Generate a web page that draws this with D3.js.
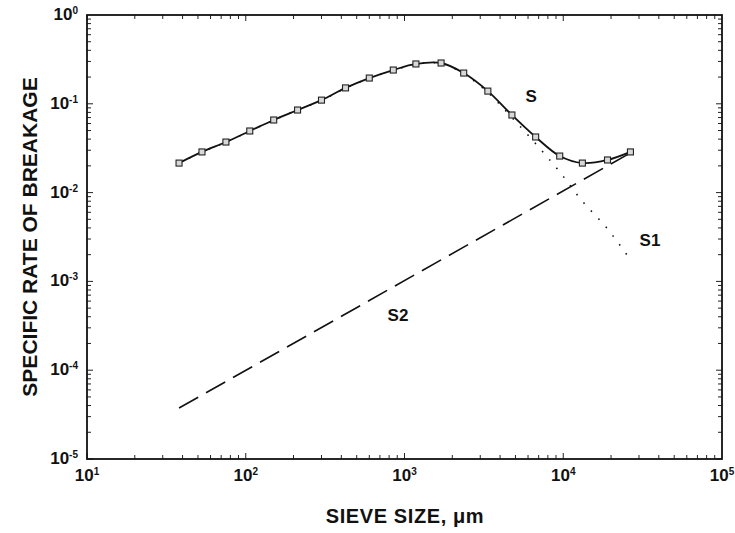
<!DOCTYPE html>
<html><head><meta charset="utf-8">
<script src="https://cdn.jsdelivr.net/npm/d3@7"></script>
<style>body{margin:0;background:#fff}svg{display:block}</style>
</head><body><svg id="c" width="735" height="533"></svg>
<script>
const sieveSizes = [38, 53, 75, 106, 150, 212, 300, 425, 600, 850, 1180, 1700, 2360, 3350, 4750, 6700, 9500, 13200, 19000, 26500];
const sValues  = [0.0215, 0.0287, 0.0371, 0.0494, 0.0657, 0.0851, 0.110, 0.151, 0.195, 0.240, 0.281, 0.288, 0.222, 0.139, 0.0748, 0.0423, 0.0258, 0.0215, 0.0233, 0.0287];
const s1Values = [0.0214, 0.0286, 0.0370, 0.0492, 0.0655, 0.0848, 0.109, 0.150, 0.194, 0.238, 0.279, 0.285, 0.218, 0.134, 0.0700, 0.0356, 0.0171, 0.0080, 0.0039, 0.00175];
const s2Sizes  = [38, 26500];
const s2Values = [3.75e-5, 0.0280];
const xTickExps = [1, 2, 3, 4, 5];
const yTickExps = [0, -1, -2, -3, -4, -5];
const curveLabels = [{t:"S", x:6270, y:0.122}, {t:"S1", x:35200, y:0.00292}, {t:"S2", x:910, y:4.18e-4}];
const xTitle = "SIEVE SIZE, \u03bcm";
const yTitle = "SPECIFIC RATE OF BREAKAGE";

const svg = d3.select("#c");
const L = 87, R = 722, T = 15, B = 459;
const x = d3.scaleLog().domain([10, 1e5]).range([L, R]);
const y = d3.scaleLog().domain([1e-5, 1]).range([B, T]);
const font = "'Liberation Sans', Arial, sans-serif";

// ticks (inward, all four sides)
const tg = svg.append("g").attr("stroke", "#222").attr("stroke-width", 1);
function minorVals(lo, hi) {
  const out = [];
  for (let e = lo; e < hi; e++) for (let m = 1; m < 10; m++) out.push({v: m * Math.pow(10, e), major: m === 1});
  return out;
}
minorVals(1, 5).forEach(d => {
  const px = x(d.v), len = d.major ? 6 : 4;
  tg.append("line").attr("x1", px).attr("x2", px).attr("y1", B).attr("y2", B - len);
  tg.append("line").attr("x1", px).attr("x2", px).attr("y1", T).attr("y2", T + len);
});
minorVals(-5, 0).forEach(d => {
  const py = y(d.v), len = d.major ? 6 : 4;
  tg.append("line").attr("y1", py).attr("y2", py).attr("x1", L).attr("x2", L + len);
  tg.append("line").attr("y1", py).attr("y2", py).attr("x1", R).attr("x2", R - len);
});

// frame
svg.append("rect").attr("x", L).attr("y", T).attr("width", R - L).attr("height", B - T)
  .attr("fill", "none").attr("stroke", "#111").attr("stroke-width", 1.8);

// tick labels
xTickExps.forEach(e => {
  const t = svg.append("text").attr("x", x(Math.pow(10, e))).attr("y", 481)
    .attr("text-anchor", "middle").attr("font-family", font).attr("font-weight", "bold")
    .attr("font-size", 17).attr("fill", "#111");
  t.append("tspan").text("10");
  t.append("tspan").attr("dy", -6).attr("font-size", 10).text(e);
});
yTickExps.forEach(e => {
  const t = svg.append("text").attr("x", 78).attr("y", y(Math.pow(10, e)) + 5)
    .attr("text-anchor", "end").attr("font-family", font).attr("font-weight", "bold")
    .attr("font-size", 17).attr("fill", "#111");
  t.append("tspan").text("10");
  t.append("tspan").attr("dy", -6).attr("font-size", 10).text(e === 0 ? "0" : "-" + Math.abs(e));
});

// axis titles
svg.append("text").attr("x", 405).attr("y", 523).attr("text-anchor", "middle")
  .attr("font-family", font).attr("font-weight", "bold").attr("font-size", 20)
  .attr("letter-spacing", 0.6).attr("fill", "#111").text(xTitle);
svg.append("text").attr("transform", "translate(37,237) rotate(-90)").attr("text-anchor", "middle")
  .attr("font-family", font).attr("font-weight", "bold").attr("font-size", 21).attr("fill", "#111").text(yTitle);

// S2 dashed
const line = d3.line().x(d => x(d[0])).y(d => y(d[1]));
svg.append("path").datum(s2Sizes.map((s, i) => [s, s2Values[i]]))
  .attr("d", line).attr("fill", "none").attr("stroke", "#111").attr("stroke-width", 1.6)
  .attr("stroke-dasharray", "22,9");

// S1 dotted
svg.append("path").datum(sieveSizes.map((s, i) => [s, s1Values[i]]))
  .attr("d", d3.line().x(d => x(d[0])).y(d => y(d[1])).curve(d3.curveCatmullRom))
  .attr("fill", "none").attr("stroke", "#111")
  .attr("stroke-width", 1.6).attr("stroke-dasharray", "1.5,9.5");

// S solid
svg.append("path").datum(sieveSizes.map((s, i) => [s, sValues[i]]))
  .attr("d", d3.line().x(d => x(d[0])).y(d => y(d[1])).curve(d3.curveCatmullRom))
  .attr("fill", "none").attr("stroke", "#111").attr("stroke-width", 1.8);

// markers
svg.append("g").selectAll("rect").data(sieveSizes.map((s, i) => [s, sValues[i]])).join("rect")
  .attr("x", d => x(d[0]) - 3).attr("y", d => y(d[1]) - 3).attr("width", 6).attr("height", 6)
  .attr("fill", "#d8d8d8").attr("stroke", "#222").attr("stroke-width", 1.1);

// curve labels
svg.append("g").selectAll("text").data(curveLabels).join("text")
  .attr("x", d => x(d.x)).attr("y", d => y(d.y)).attr("dy", "0.36em").attr("text-anchor", "middle")
  .attr("font-family", font).attr("font-weight", "bold").attr("font-size", 17).attr("fill", "#111")
  .text(d => d.t);
</script></body></html>
